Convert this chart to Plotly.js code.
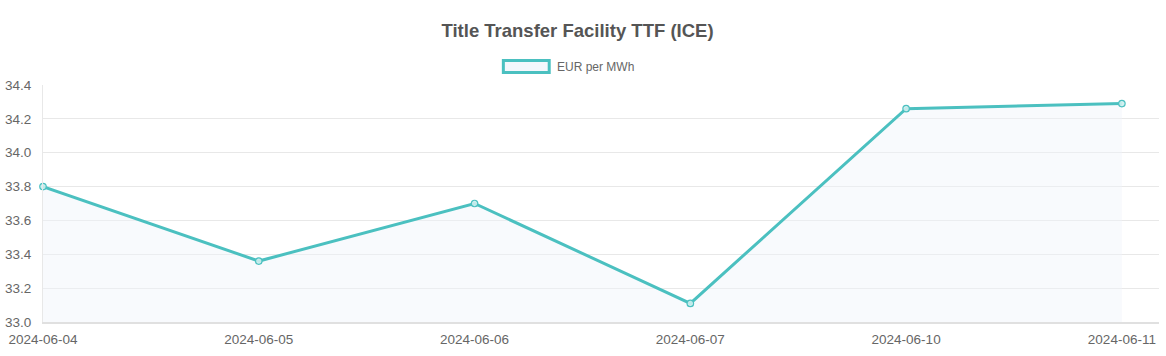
<!DOCTYPE html>
<html>
<head>
<meta charset="utf-8">
<script src="https://cdn.plot.ly/plotly-3.0.1.min.js"></script>
<style>html,body{margin:0;padding:0;background:#fff;}#chart{width:1166px;height:356px;}</style>
</head>
<body>
<div id="chart"></div>
<script>
const categories = ["2024-06-04", "2024-06-05", "2024-06-06", "2024-06-07", "2024-06-10", "2024-06-11"];
const eurPerMWh = [33.80, 33.36, 33.70, 33.11, 34.26, 34.29];
const seriesName = "EUR per MWh";
const chartTitle = "Title Transfer Facility TTF (ICE)";
const yTicks = [33.0, 33.2, 33.4, 33.6, 33.8, 34.0, 34.2, 34.4];

const lineColor = "rgb(75,192,192)";
const font = "Liberation Sans, Arial, Helvetica, sans-serif";

const trace = {
  x: categories.map((c, i) => i),
  y: eurPerMWh,
  type: "scatter",
  mode: "lines+markers",
  name: seriesName,
  line: {color: lineColor, width: 3},
  marker: {symbol: "circle", size: 6.5, color: "rgba(205,238,238,0.9)", line: {color: lineColor, width: 1.2}},
  fill: "tozeroy",
  fillcolor: "rgba(240,243,250,0.45)",
  cliponaxis: false,
  showlegend: false,
  hoverinfo: "x+y"
};

const layout = {
  width: 1166, height: 356,
  margin: {l: 43, r: 7, t: 85, b: 34},
  paper_bgcolor: "#fff", plot_bgcolor: "#fff",
  font: {family: font, color: "#666", size: 13.5},
  title: {text: "<b>" + chartTitle + "</b>", x: 0.4953, xref: "container", y: 0.915, yref: "container", xanchor: "center", yanchor: "middle",
          font: {family: font, size: 18.5, color: "#555"}},
  xaxis: {
    range: [0, 5.172], fixedrange: true,
    tickmode: "array", tickvals: categories.map((c, i) => i), ticktext: categories,
    showgrid: false, zeroline: false,
    showline: true, linecolor: "#e0e0e0", linewidth: 2,
    ticks: "", ticklabelstandoff: 4,
    tickfont: {family: font, size: 13.5, color: "#666"}
  },
  yaxis: {
    range: [33.0, 34.4], fixedrange: true,
    tickmode: "array", tickvals: yTicks, ticktext: yTicks.map(v => v.toFixed(1)),
    showgrid: true, gridcolor: "#e8e8e8", gridwidth: 1,
    zeroline: false, showline: true, linecolor: "#e8e8e8", linewidth: 1,
    ticks: "", ticklabelstandoff: 8,
    tickfont: {family: font, size: 13.5, color: "#666"}
  },
  shapes: [{
    type: "rect", xref: "paper", yref: "paper",
    x0: 0.4125, x1: 0.4536, y0: 1.0529, y1: 1.1035,
    line: {color: lineColor, width: 3}, fillcolor: "rgba(245,247,252,1)"
  }],
  annotations: [{
    text: seriesName, xref: "paper", yref: "paper", x: 0.459, y: 1.078,
    xanchor: "left", yanchor: "middle", showarrow: false,
    font: {family: font, size: 12, color: "#666"}
  }]
};

Plotly.newPlot("chart", [trace], layout, {displayModeBar: false, responsive: false});
</script>
</body>
</html>
